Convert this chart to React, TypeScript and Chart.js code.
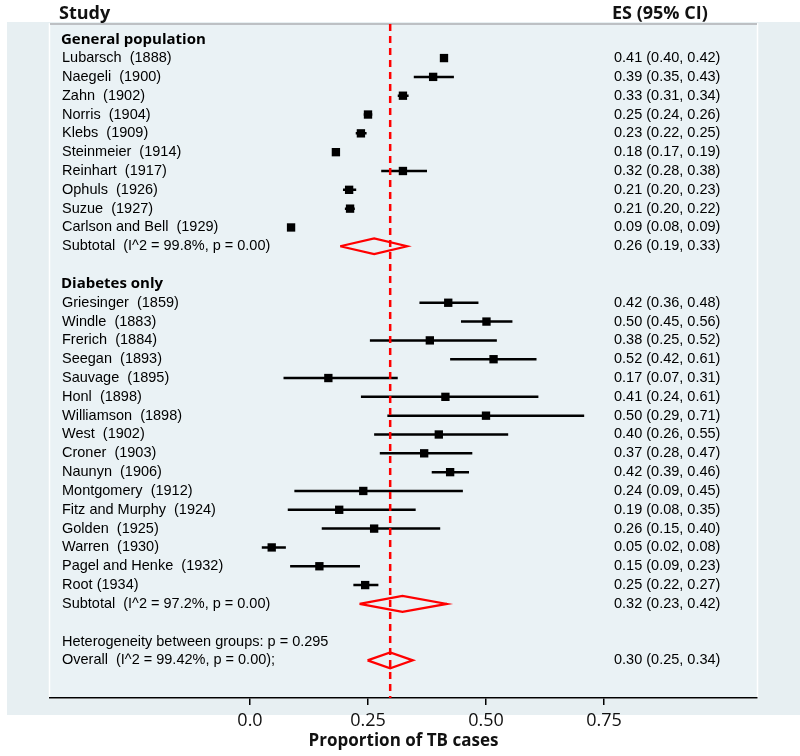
import React, { useEffect, useRef } from "react";
import { Chart, registerables } from "chart.js";

Chart.register(...registerables);

// ---------- data ----------
const groupTitles = ["General population", "Diabetes only"];

const genStudies = [
  "Lubarsch  (1888)", "Naegeli  (1900)", "Zahn  (1902)", "Norris  (1904)", "Klebs  (1909)",
  "Steinmeier  (1914)", "Reinhart  (1917)", "Ophuls  (1926)", "Suzue  (1927)", "Carlson and Bell  (1929)",
];
const genES = [0.411, 0.388, 0.324, 0.25, 0.235, 0.182, 0.324, 0.21, 0.212, 0.087];
const genLo = [0.403, 0.347, 0.313, 0.241, 0.224, 0.175, 0.278, 0.197, 0.201, 0.08];
const genHi = [0.418, 0.432, 0.336, 0.259, 0.247, 0.189, 0.375, 0.225, 0.222, 0.092];
const genText = [
  "0.41 (0.40, 0.42)", "0.39 (0.35, 0.43)", "0.33 (0.31, 0.34)", "0.25 (0.24, 0.26)", "0.23 (0.22, 0.25)",
  "0.18 (0.17, 0.19)", "0.32 (0.28, 0.38)", "0.21 (0.20, 0.23)", "0.21 (0.20, 0.22)", "0.09 (0.08, 0.09)",
];
const genSubLabel = "Subtotal  (I^2 = 99.8%, p = 0.00)";
const genSub = [0.263, 0.191, 0.333]; // es, lo, hi
const genSubText = "0.26 (0.19, 0.33)";

const diaStudies = [
  "Griesinger  (1859)", "Windle  (1883)", "Frerich  (1884)", "Seegan  (1893)", "Sauvage  (1895)",
  "Honl  (1898)", "Williamson  (1898)", "West  (1902)", "Croner  (1903)", "Naunyn  (1906)",
  "Montgomery  (1912)", "Fitz and Murphy  (1924)", "Golden  (1925)", "Warren  (1930)",
  "Pagel and Henke  (1932)", "Root (1934)",
];
const diaES = [0.42, 0.501, 0.381, 0.516, 0.166, 0.414, 0.5, 0.4, 0.369, 0.424, 0.24, 0.189, 0.263, 0.046, 0.147, 0.244];
const diaLo = [0.359, 0.447, 0.254, 0.424, 0.071, 0.235, 0.291, 0.263, 0.275, 0.385, 0.094, 0.08, 0.152, 0.025, 0.085, 0.219];
const diaHi = [0.484, 0.556, 0.523, 0.607, 0.313, 0.611, 0.708, 0.547, 0.471, 0.464, 0.451, 0.351, 0.403, 0.076, 0.233, 0.272];
const diaText = [
  "0.42 (0.36, 0.48)", "0.50 (0.45, 0.56)", "0.38 (0.25, 0.52)", "0.52 (0.42, 0.61)", "0.17 (0.07, 0.31)",
  "0.41 (0.24, 0.61)", "0.50 (0.29, 0.71)", "0.40 (0.26, 0.55)", "0.37 (0.28, 0.47)", "0.42 (0.39, 0.46)",
  "0.24 (0.09, 0.45)", "0.19 (0.08, 0.35)", "0.26 (0.15, 0.40)", "0.05 (0.02, 0.08)", "0.15 (0.09, 0.23)",
  "0.25 (0.22, 0.27)",
];
const diaSubLabel = "Subtotal  (I^2 = 97.2%, p = 0.00)";
const diaSub = [0.323, 0.232, 0.417];
const diaSubText = "0.32 (0.23, 0.42)";

const hetLabel = "Heterogeneity between groups: p = 0.295";
const overallLabel = "Overall  (I^2 = 99.42%, p = 0.00);";
const overall = [0.297, 0.249, 0.345];
const overallText = "0.30 (0.25, 0.34)";

const xTicks = [0, 0.25, 0.5, 0.75];
const xTickLabels = ["0.0", "0.25", "0.50", "0.75"];
const xTitle = "Proportion of TB cases";
const headerLeft = "Study";
const headerRight = "ES (95% CI)";

// ---------- rows ----------
type Row = { label: string; kind: "head" | "study" | "sub" | "text"; es?: number; lo?: number; hi?: number; txt?: string };
const rows: Row[] = [];
rows.push({ label: groupTitles[0], kind: "head" });
genStudies.forEach((s, i) => rows.push({ label: s, kind: "study", es: genES[i], lo: genLo[i], hi: genHi[i], txt: genText[i] }));
rows.push({ label: genSubLabel, kind: "sub", es: genSub[0], lo: genSub[1], hi: genSub[2], txt: genSubText });
rows.push({ label: "", kind: "text" });
rows.push({ label: groupTitles[1], kind: "head" });
diaStudies.forEach((s, i) => rows.push({ label: s, kind: "study", es: diaES[i], lo: diaLo[i], hi: diaHi[i], txt: diaText[i] }));
rows.push({ label: diaSubLabel, kind: "sub", es: diaSub[0], lo: diaSub[1], hi: diaSub[2], txt: diaSubText });
rows.push({ label: "", kind: "text" });
rows.push({ label: hetLabel, kind: "text" });
rows.push({ label: overallLabel, kind: "sub", es: overall[0], lo: overall[1], hi: overall[2], txt: overallText });

const Y_MIN = -0.81;
const Y_MAX = 35;
const DIAMOND_H = 0.42;

export default function App() {
  const ref = useRef<HTMLCanvasElement | null>(null);

  useEffect(() => {
    document.body.style.margin = "0";
    const ciData: any[] = [];
    const sqData: any[] = [];
    const dmData: any[] = [];
    rows.forEach((r, i) => {
      if (r.kind === "study") {
        ciData.push({ x: r.lo, y: i }, { x: r.hi, y: i }, { x: null, y: null });
        sqData.push({ x: r.es, y: i });
      } else if (r.kind === "sub") {
        dmData.push(
          { x: r.lo, y: i },
          { x: r.es, y: i - DIAMOND_H },
          { x: r.hi, y: i },
          { x: r.es, y: i + DIAMOND_H },
          { x: r.lo, y: i },
          { x: null, y: null }
        );
      }
    });
    const refLine = [
      { x: overall[0], y: Y_MIN },
      { x: overall[0], y: Y_MAX },
    ];

    const bgPlugin = {
      id: "forestBg",
      beforeDraw(chart: any) {
        const { ctx, chartArea } = chart;
        ctx.save();
        ctx.fillStyle = "#e7eff2";
        ctx.fillRect(7, 22, 800 - 7, 715 - 22);
        ctx.fillStyle = "#eaf2f5";
        ctx.fillRect(chartArea.left, chartArea.top, chartArea.right - chartArea.left, chartArea.bottom - chartArea.top);
        ctx.strokeStyle = "#ffffff";
        ctx.lineWidth = 1.5;
        ctx.strokeRect(chartArea.left - 0.5, chartArea.top, chartArea.right - chartArea.left + 1, chartArea.bottom - chartArea.top);
        ctx.strokeStyle = "#a9adb0";
        ctx.lineWidth = 1.5;
        ctx.beginPath();
        ctx.moveTo(chartArea.left, chartArea.top);
        ctx.lineTo(chartArea.right, chartArea.top);
        ctx.stroke();
        ctx.fillStyle = "#111";
        ctx.font = "bold 18px 'Open Sans'";
        ctx.textBaseline = "alphabetic";
        ctx.textAlign = "left";
        ctx.fillText(headerLeft, 59, 19);
        ctx.fillText(headerRight, 612, 19);
        ctx.restore();
      },
      afterDatasetsDraw(chart: any) {
        const { ctx } = chart;
        const y = chart.scales.y;
        ctx.save();
        ctx.textBaseline = "middle";
        ctx.textAlign = "left";
        ctx.fillStyle = "#000";
        rows.forEach((r, i) => {
          const py = y.getPixelForValue(i);
          if (r.kind === "head") {
            ctx.font = "bold 15px 'Open Sans'";
            ctx.fillText(r.label, 61, py);
          } else if (r.label) {
            ctx.font = "14.5px 'Liberation Sans'";
            ctx.fillText(r.label, 62, py);
          }
          if (r.txt) {
            ctx.font = "14.5px 'Liberation Sans'";
            ctx.fillText(r.txt, 614, py);
          }
        });
        ctx.restore();
      },
    };

    const chart = new Chart(ref.current as HTMLCanvasElement, {
      type: "scatter",
      data: {
        datasets: [
          {
            type: "line",
            data: refLine,
            borderColor: "#ff0000",
            borderWidth: 2.5,
            borderDash: [7, 5],
            pointRadius: 0,
            fill: false,
          } as any,
          {
            type: "line",
            data: ciData,
            borderColor: "#000",
            borderWidth: 2.5,
            pointRadius: 0,
            spanGaps: false,
            fill: false,
          } as any,
          {
            type: "scatter",
            data: sqData,
            pointStyle: "rect",
            pointRadius: 5.9,
            backgroundColor: "#000",
            borderColor: "#000",
            borderWidth: 0,
          } as any,
          {
            type: "line",
            data: dmData,
            borderColor: "#ff0000",
            borderWidth: 2.2,
            pointRadius: 0,
            spanGaps: false,
            fill: false,
            tension: 0,
          } as any,
        ],
      },
      options: {
        animation: false,
        responsive: true,
        maintainAspectRatio: false,
        layout: { padding: { left: 50, right: 43, top: 24, bottom: 0 } },
        plugins: { legend: { display: false }, tooltip: { enabled: false } },
        scales: {
          x: {
            type: "linear",
            min: (50 - 250) / 472,
            max: (757 - 250) / 472,
            afterBuildTicks: (s: any) => {
              s.ticks = xTicks.map((v) => ({ value: v }));
            },
            afterFit: (s: any) => {
              s.height = 58;
            },
            ticks: {
              autoSkip: false,
              maxRotation: 0,
              padding: 5,
              color: "#111",
              font: { family: "'Open Sans'", size: 18 },
              callback: (v: any) => {
                const k = xTicks.indexOf(Number(v));
                return k >= 0 ? xTickLabels[k] : "";
              },
            },
            grid: { drawOnChartArea: false, drawTicks: true, tickLength: 7, color: "#000", lineWidth: 1.5 },
            border: { display: true, color: "#000", width: 1.5 },
            title: {
              display: true,
              text: xTitle,
              color: "#111",
              font: { family: "'Open Sans'", size: 17, weight: "bold" },
              padding: { top: 0, bottom: 5 },
            },
          },
          y: {
            type: "linear",
            reverse: true,
            min: Y_MIN,
            max: Y_MAX,
            display: false,
          },
        },
      },
      plugins: [bgPlugin],
    } as any);
    return () => chart.destroy();
  }, []);

  return (
    <div style={{ width: 800, height: 756, position: "relative" }}>
      <canvas ref={ref} />
    </div>
  );
}
